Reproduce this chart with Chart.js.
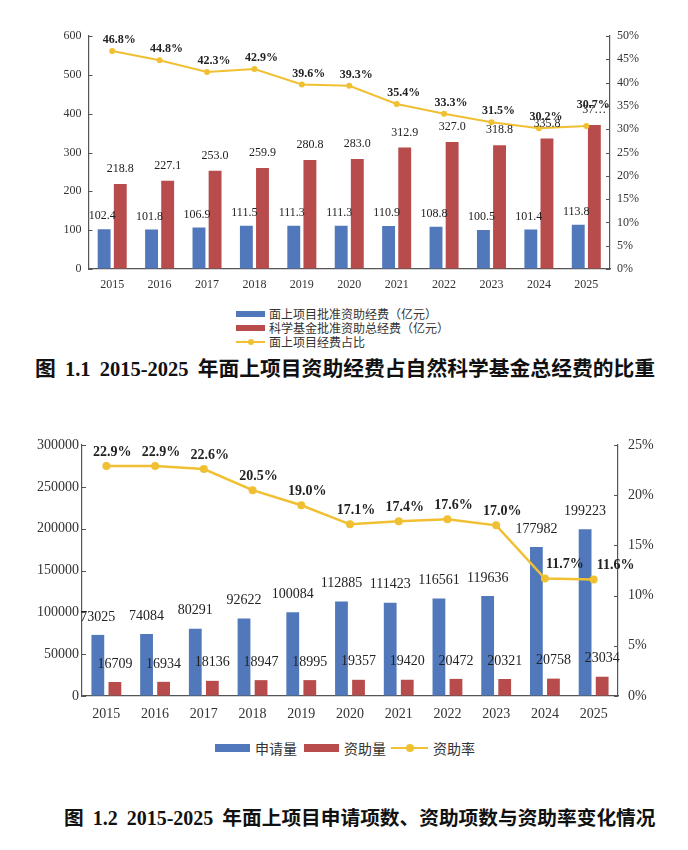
<!DOCTYPE html>
<html><head><meta charset="utf-8">
<script src="https://cdn.jsdelivr.net/npm/chart.js@4.4.1/dist/chart.umd.min.js"></script>
<style>
html,body{margin:0;padding:0;background:#fff;}
#page{position:relative;width:688px;height:850px;overflow:hidden;background:#fff;}
canvas{position:absolute;left:0;}
.cap{position:absolute;white-space:nowrap;font-weight:bold;color:#111;font-family:"Noto Sans CJK SC",sans-serif;line-height:24px;}
.cap .a{font-family:"Liberation Serif",serif;word-spacing:4px;}
.lg{position:absolute;white-space:nowrap;font-family:"Noto Sans CJK SC",sans-serif;color:#333;display:flex;align-items:center;}
.sw{display:inline-block;}
.ln{display:inline-block;position:relative;height:2px;background:#F0C032;}
.ln i{position:absolute;left:50%;top:50%;border-radius:50%;background:#F0C032;transform:translate(-50%,-50%);}
</style></head>
<body><div id="page">
<canvas id="c1" width="688" height="300" style="top:0;width:688px;height:300px"></canvas>
<div class="lg" style="left:236px;top:307px;font-size:12px;line-height:14px"><span class="sw" style="width:29px;height:6px;background:#5078BA;margin-right:4px"></span><span>面上项目批准资助经费（亿元）</span></div>
<div class="lg" style="left:236px;top:321px;font-size:12px;line-height:14px"><span class="sw" style="width:29px;height:6px;background:#B84C4C;margin-right:4px"></span><span>科学基金批准资助总经费（亿元）</span></div>
<div class="lg" style="left:236px;top:335px;font-size:12px;line-height:14px"><span class="ln" style="width:29px;margin-right:4px"><i style="width:6px;height:6px"></i></span><span>面上项目经费占比</span></div>
<div class="cap" style="left:35px;top:355px;font-size:20.8px">图<span class="a" style="font-size:20.5px"> 1.1 2015-2025 </span>年面上项目资助经费占自然科学基金总经费的比重</div>

<canvas id="c2" width="688" height="310" style="top:420px;width:688px;height:310px"></canvas>
<div class="lg" style="left:215px;top:739px;font-size:14px;line-height:18px">
<span class="sw" style="width:35px;height:8px;background:#5078BA;margin-right:5px"></span><span style="margin-right:7px">申请量</span>
<span class="sw" style="width:35px;height:8px;background:#B84C4C;margin-right:5px"></span><span style="margin-right:5px">资助量</span>
<span class="ln" style="width:37px;margin-right:5px"><i style="width:8px;height:8px"></i></span><span>资助率</span></div>
<div class="cap" style="left:64px;top:805px;font-size:19.7px">图<span class="a" style="font-size:20px"> 1.2 2015-2025 </span>年面上项目申请项数、资助项数与资助率变化情况</div>
</div>
<script>
// ---------- data ----------
const years = ['2015','2016','2017','2018','2019','2020','2021','2022','2023','2024','2025'];
// Figure 1.1
const surfaceFunding = [102.4,101.8,106.9,111.5,111.3,111.3,110.9,108.8,100.5,101.4,113.8];
const totalFunding   = [218.8,227.1,253.0,259.9,280.8,283.0,312.9,327.0,318.8,335.8,370.7];
const fundingShare   = [46.8,44.8,42.3,42.9,39.6,39.3,35.4,33.3,31.5,30.2,30.7];
const totalFundingLabels = ['218.8','227.1','253.0','259.9','280.8','283.0','312.9','327.0','318.8','335.8','37…'];
// Figure 1.2
const applications = [73025,74084,80291,92622,100084,112885,111423,116561,119636,177982,199223];
const awards       = [16709,16934,18136,18947,18995,19357,19420,20472,20321,20758,23034];
const awardRate    = [22.9,22.9,22.6,20.5,19.0,17.1,17.4,17.6,17.0,11.7,11.6];

// ---------- styles ----------
const BLUE='#5078BA', RED='#B84C4C', GOLD='#F0C032', AX='#555', TXT='#333';
const SERIF="'Liberation Serif','Times New Roman',serif";
Chart.defaults.font.family = SERIF;
Chart.defaults.color = TXT;
const shareNudgeY = [0,0,0,0,0,0,0,0,0,0,-10];
const rateNudgeX  = [0,0,0,0,0,0,0,0,0,14,16];

const valueLabels = {
  id:'valueLabels',
  afterDatasetsDraw(chart){
    const ctx = chart.ctx;
    chart.data.datasets.forEach((ds,i)=>{
      const L = ds.labelStyle; if(!L) return;
      const meta = chart.getDatasetMeta(i);
      ctx.save();
      ctx.font = L.font; ctx.fillStyle = L.color || '#222';
      ctx.textAlign='center'; ctx.textBaseline='middle';
      meta.data.forEach((el,j)=>{
        const txt = L.text(ds.data[j], j);
        const dx = L.dx + (L.nx ? L.nx[j] : 0);
        const dy = L.dy + (L.ny ? L.ny[j] : 0);
        ctx.fillText(txt, el.x+dx, el.y+dy);
      });
      ctx.restore();
    });
  }
};
const innerTicks = {
  id:'innerTicks',
  afterDraw(chart){
    const ctx = chart.ctx; ctx.save(); ctx.strokeStyle=AX; ctx.lineWidth=1;
    ['y','y1'].forEach(id=>{
      const s = chart.scales[id]; const left = s.position==='left';
      const x0 = left ? s.right : s.left;
      s.ticks.forEach(t=>{
        const y = Math.round(s.getPixelForValue(t.value))+0.5;
        ctx.beginPath(); ctx.moveTo(x0,y); ctx.lineTo(left ? x0+4 : x0-4, y); ctx.stroke();
      });
    });
    ctx.restore();
  }
};

function axisBase(){ return { grid:{display:true,drawOnChartArea:false,drawTicks:false}, border:{display:true,color:AX,width:1.2} }; }

function makeChart(id, cfg){
  return new Chart(document.getElementById(id), {
    data:{ labels: years, datasets: cfg.datasets },
    options:{
      responsive:false, animation:false,
      layout:{ padding:{ top:cfg.padTop, left:0, right:0, bottom:0 } },
      plugins:{ legend:{display:false}, tooltip:{enabled:false} },
      scales:{
        x: Object.assign(axisBase(), { type:'category', ticks:{ font:{size:cfg.fs}, color:TXT, padding:cfg.xPad }, afterFit(s){ s.height = cfg.xH; } }),
        y: Object.assign(axisBase(), { type:'linear', position:'left', min:0, max:cfg.yMax,
             ticks:{ stepSize:cfg.yStep, font:{size:cfg.fs}, color:TXT, padding:cfg.yPad, callback:v=>String(v) }, afterFit(s){ s.width = cfg.yW; } }),
        y1: Object.assign(axisBase(), { type:'linear', position:'right', min:0, max:cfg.rMax,
             ticks:{ stepSize:5, font:{size:cfg.fs}, color:TXT, padding:cfg.rPad, callback:v=>v+'%' }, afterFit(s){ s.width = cfg.rW; } })
      }
    },
    plugins:[valueLabels, innerTicks]
  });
}

// Figure 1.1
makeChart('c1', {
  padTop:36, fs:12, xPad:9, xH:31, yMax:600, yStep:100, yPad:7, yW:88.5, rMax:50, rPad:7, rW:78,
  datasets:[
    { type:'line', label:'面上项目经费占比', data:fundingShare, yAxisID:'y1', order:0,
      borderColor:GOLD, backgroundColor:GOLD, borderWidth:2, pointRadius:3, pointBackgroundColor:GOLD, pointBorderWidth:0, tension:0,
      labelStyle:{ font:'bold 12px '+SERIF, color:'#222', dx:7, dy:-11, ny:shareNudgeY, text:v=>v.toFixed(1)+'%' } },
    { type:'bar', label:'面上项目批准资助经费（亿元）', data:surfaceFunding, yAxisID:'y', order:1,
      backgroundColor:BLUE, categoryPercentage:0.68, barPercentage:0.8,
      labelStyle:{ font:'12px '+SERIF, color:'#222', dx:-2, dy:-13, text:v=>v.toFixed(1) } },
    { type:'bar', label:'科学基金批准资助总经费（亿元）', data:totalFunding, yAxisID:'y', order:1,
      backgroundColor:RED, categoryPercentage:0.68, barPercentage:0.8,
      labelStyle:{ font:'12px '+SERIF, color:'#222', dx:0, dy:-15, text:(v,j)=>totalFundingLabels[j] } }
  ]
});

// Figure 1.2
makeChart('c2', {
  padTop:25, fs:14, xPad:10, xH:34, yMax:300000, yStep:50000, yPad:3, yW:82, rMax:25, rPad:10, rW:70,
  datasets:[
    { type:'line', label:'资助率', data:awardRate, yAxisID:'y1', order:0,
      borderColor:GOLD, backgroundColor:GOLD, borderWidth:2.5, pointRadius:4, pointBackgroundColor:GOLD, pointBorderWidth:0, tension:0,
      labelStyle:{ font:'bold 14px '+SERIF, color:'#222', dx:6, dy:-14, nx:rateNudgeX, text:v=>v.toFixed(1)+'%' } },
    { type:'bar', label:'申请量', data:applications, yAxisID:'y', order:1,
      backgroundColor:BLUE, categoryPercentage:0.7, barPercentage:0.75,
      labelStyle:{ font:'14px '+SERIF, color:'#222', dx:0, dy:-18, text:v=>String(v) } },
    { type:'bar', label:'资助量', data:awards, yAxisID:'y', order:1,
      backgroundColor:RED, categoryPercentage:0.7, barPercentage:0.75,
      labelStyle:{ font:'14px '+SERIF, color:'#222', dx:0, dy:-18, text:v=>String(v) } }
  ]
});
</script>
</body></html>
